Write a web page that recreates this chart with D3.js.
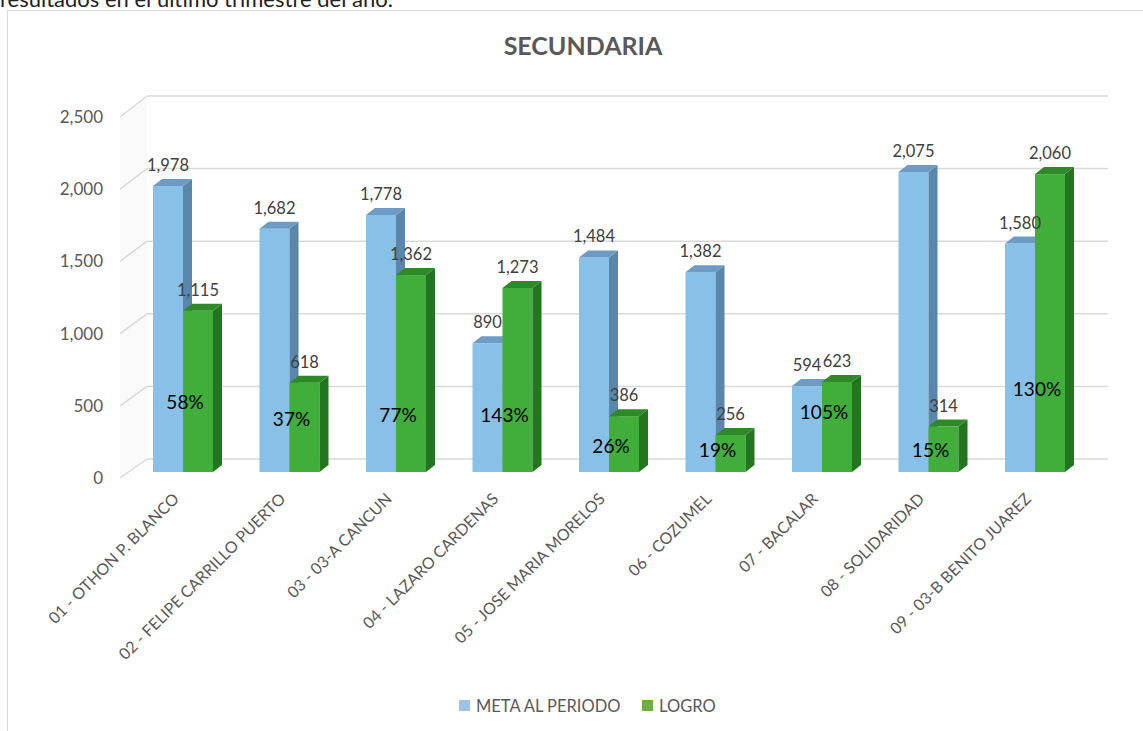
<!DOCTYPE html>
<html><head><meta charset="utf-8">
<script src="https://cdn.jsdelivr.net/npm/d3@7"></script>
<style>
html,body{margin:0;padding:0;background:#fff;overflow:hidden}
text{font-family:Lato,"Open Sans",sans-serif}
</style></head>
<body><svg id="c" width="1143" height="731"></svg>
<script>
const categories = ["01 - OTHON P. BLANCO","02 - FELIPE CARRILLO PUERTO","03 - 03-A CANCUN","04 - LAZARO CARDENAS","05 - JOSE MARIA MORELOS","06 - COZUMEL","07 - BACALAR","08 - SOLIDARIDAD","09 - 03-B BENITO JUAREZ"];
const meta = [1978,1682,1778,890,1484,1382,594,2075,1580];
const logro = [1115,618,1362,1273,386,256,623,314,2060];
const pctLabels = ["58%","37%","77%","143%","26%","19%","105%","15%","130%"];
const pctLabelLevel = [480,365,395,395,180,150,415,150,575];
const yTicks = [0,500,1000,1500,2000,2500];
const seriesNames = ["META AL PERIODO","LOGRO"];

const svg = d3.select("#c");
const fmt = d3.format(",");

// page text + chart frame
svg.append("text").attr("x",0).attr("y",7).attr("font-size",22).attr("fill","#222")
  .text("resultados en el último trimestre del año.");
svg.append("rect").attr("x",7.5).attr("y",10.5).attr("width",1200).attr("height",800)
  .attr("fill","#fff").attr("stroke","#d9d9d9");

svg.append("text").attr("x",583).attr("y",55).attr("text-anchor","middle")
  .attr("font-size",25).attr("font-weight","bold").attr("fill","#595959").text("SECUNDARIA");

const yFront = d3.scaleLinear().domain([0,2500]).range([478,117]);
const yBack  = d3.scaleLinear().domain([0,2500]).range([459,96]);
const yBar   = d3.scaleLinear().domain([0,2500]).range([472,110.5]);
const x = d3.scalePoint().domain(categories).range([183,1035]);
const xFront = 120, xBack0 = 147, xBack1 = 1108;
const barW = 30, dx = 9, dy = 7;

// side wall faint fill
svg.append("path").attr("d",`M${xFront},${yFront(0)}L${xBack0},${yBack(0)}L${xBack0},${yBack(2500)}L${xFront},${yFront(2500)}Z`)
  .attr("fill","#fafafa");

const grid = svg.append("g");
yTicks.forEach(t=>{
  grid.append("line").attr("x1",xBack0).attr("x2",xBack1).attr("y1",yBack(t)).attr("y2",yBack(t))
    .attr("stroke","#d9d9d9").attr("stroke-width",1.5);
  grid.append("line").attr("x1",xFront).attr("x2",xBack0).attr("y1",yFront(t)).attr("y2",yBack(t))
    .attr("stroke","#d9d9d9").attr("stroke-width",1.5);
  grid.append("text").attr("x",103).attr("y",yFront(t)).attr("dy","0.35em").attr("text-anchor","end")
    .attr("font-size",17).attr("fill","#595959").text(fmt(t));
});

const colors = [
  {front:"#88c0e8", side:"#5a86a9", top:"#6d9bc3"},
  {front:"#41ad3b", side:"#24751f", top:"#2e8a29"}
];
const bars = svg.append("g");
categories.forEach((c,i)=>{
  [meta[i],logro[i]].forEach((v,s)=>{
    const x0 = x(c) - barW + s*barW, x1 = x0 + barW;
    const yt = yBar(v), yb = yBar(0);
    const col = colors[s];
    bars.append("rect").attr("x",x0).attr("y",yt).attr("width",barW).attr("height",yb-yt).attr("fill",col.front);
    bars.append("path").attr("d",`M${x1},${yt}L${x1+dx},${yt-dy}L${x1+dx},${yb-dy}L${x1},${yb}Z`).attr("fill",col.side);
    bars.append("path").attr("d",`M${x0},${yt}L${x0+dx},${yt-dy}L${x1+dx},${yt-dy}L${x1},${yt}Z`).attr("fill",col.top);
  });
});
// value labels
categories.forEach((c,i)=>{
  [meta[i],logro[i]].forEach((v,s)=>{
    const cx = x(c) - barW/2 + s*barW;
    svg.append("text").attr("x",cx).attr("y",yBar(v)-15).attr("text-anchor","middle")
      .attr("font-size",16.5).attr("fill","#404040").text(fmt(v));
  });
  svg.append("text").attr("x",x(c)+2).attr("y",yBar(pctLabelLevel[i])).attr("dy","0.35em")
    .attr("text-anchor","middle").attr("font-size",19).attr("fill","#000").text(pctLabels[i]);
});

// category labels
categories.forEach(c=>{
  svg.append("text").attr("transform",`translate(${x(c)-7},${496}) rotate(-45)`)
    .attr("text-anchor","end").attr("dy","0.35em").attr("font-size",16).attr("fill","#595959").text(c);
});

// legend
const leg = [{x:459,c:"#9dc3e6"},{x:642,c:"#70ad47"}];
leg.forEach((l,i)=>{
  svg.append("rect").attr("x",l.x).attr("y",700).attr("width",11).attr("height",11).attr("fill",l.c);
  svg.append("text").attr("x",l.x+17).attr("y",706).attr("dy","0.35em").attr("font-size",16.5)
    .attr("fill","#595959").text(seriesNames[i]);
});
</script></body></html>
